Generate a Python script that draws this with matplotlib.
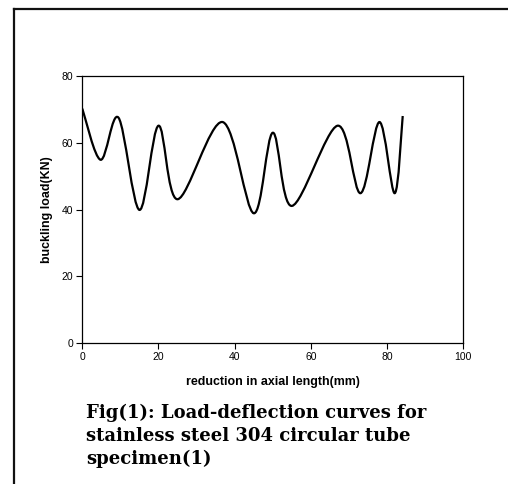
import matplotlib

matplotlib.use("Agg")
import matplotlib.pyplot as plt
import numpy as np
from matplotlib.lines import Line2D
from matplotlib.patches import PathPatch
from matplotlib.path import Path

# Data (smoothed line through these points)
reduction_mm = [0, 4.8, 9.5, 15.0, 20.0, 25.0, 36.8, 45.0, 50.0, 55.0, 67.0, 73.0, 78.0, 82.0, 84.1]
buckling_kn = [70.2, 54.9, 67.5, 39.9, 65.1, 43.1, 66.2, 38.9, 63.0, 41.1, 65.1, 44.9, 66.2, 44.9, 68.0]

x_ticks = [0, 20, 40, 60, 80, 100]
y_ticks = [0, 20, 40, 60, 80]

caption_lines = [
    "Fig(1): Load-deflection curves for",
    "stainless steel 304 circular tube",
    "specimen(1)",
]


def smooth_path(xs, ys):
    """Excel-style smoothed line: cubic Bezier segments through every point."""
    pts = np.column_stack([xs, ys]).astype(float)
    n = len(pts)
    verts = [pts[0]]
    codes = [Path.MOVETO]
    for i in range(n - 1):
        p0 = pts[max(i - 1, 0)]
        p1 = pts[i]
        p2 = pts[i + 1]
        p3 = pts[min(i + 2, n - 1)]
        c1 = p1 + (p2 - p0) / 6.0
        c2 = p2 - (p3 - p1) / 6.0
        verts += [c1, c2, p2]
        codes += [Path.CURVE4] * 3
    return Path(verts, codes)


plt.rcParams["font.family"] = ["Liberation Sans", "DejaVu Sans"]

fig = plt.figure(figsize=(5.08, 4.84), dpi=100)
ax = fig.add_axes([0.162, 0.2907, 0.750, 0.5525])

patch = PathPatch(smooth_path(reduction_mm, buckling_kn), facecolor="none",
                  edgecolor="black", linewidth=1.6, capstyle="butt", joinstyle="round")
ax.add_patch(patch)

ax.set_xlim(0, 100)
ax.set_ylim(0, 80)
ax.set_xticks(x_ticks)
ax.set_yticks(y_ticks)
ax.tick_params(axis="both", direction="out", length=4, width=0.8,
               labelsize=7.5, pad=2.5, colors="black")
for sp in ax.spines.values():
    sp.set_linewidth(0.9)

ax.set_xlabel("reduction in axial length(mm)", fontsize=8.9, fontweight="bold", labelpad=10)
ax.set_ylabel("buckling load(KN)", fontsize=8.9, fontweight="bold", labelpad=6)

# caption below the chart
y0 = 484 - 418
for k, line in enumerate(caption_lines):
    fig.text(86 / 508, (y0 - k * 23) / 484, line, ha="left", va="baseline",
             fontsize=13, fontweight="bold", family=["DejaVu Serif"])

# open frame: left and top edges only
frame_kw = dict(color="#111111", linewidth=1.6, transform=fig.transFigure)
fig.add_artist(Line2D([14.3 / 508, 14.3 / 508], [0, 1 - 9 / 484], **frame_kw))
fig.add_artist(Line2D([14.3 / 508, 1], [1 - 9 / 484, 1 - 9 / 484], **frame_kw))

fig.savefig("out.png", dpi=100)
